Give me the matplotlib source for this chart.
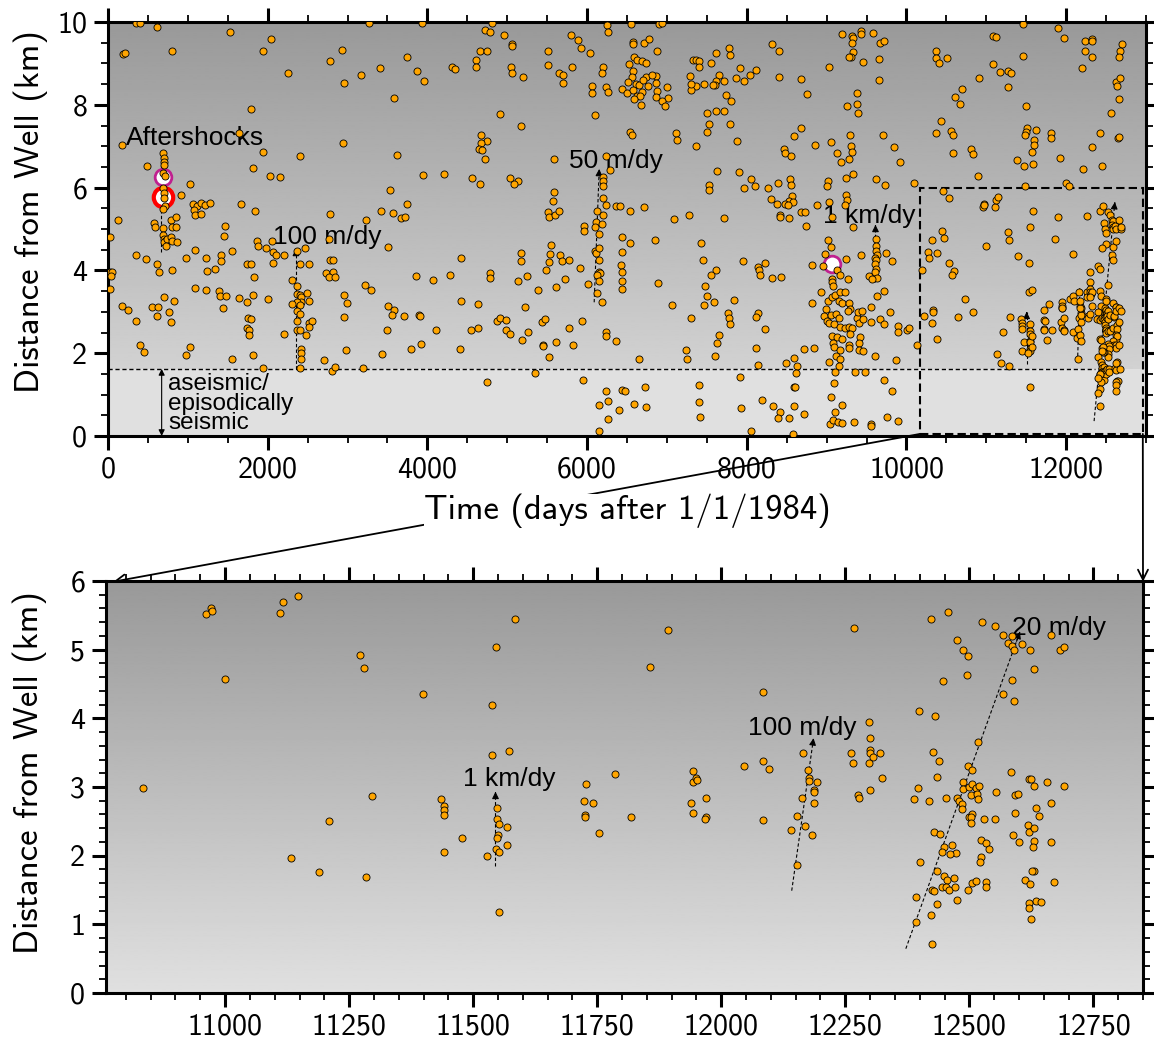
import numpy as np
import matplotlib
matplotlib.use('Agg')
import matplotlib.pyplot as plt
from matplotlib.patches import Rectangle, ConnectionPatch
from matplotlib.ticker import MultipleLocator, FormatStrFormatter

plt.rcParams['axes.unicode_minus'] = False

AX_FONT = 'cmss10'
NOTE_FONT = 'Liberation Sans'

# ---------------------------------------------------------------------------
# Event catalogue: (days after 1/1/1984, distance from well in km)
# ---------------------------------------------------------------------------

quakes_1984_1992 = [
    (355, 9.98), (397, 9.98), (614, 9.89), (1534, 9.76), (2040, 9.58), (1935, 9.29), (807, 9.31),
    (188, 9.23), (217, 9.25), (2780, 9.07), (2934, 9.33), (2249, 8.78), (2960, 8.52), (3164, 8.72),
    (1797, 7.91), (1643, 7.31), (176, 7.02), (2939, 7.08), (1935, 6.86), (2404, 6.77), (1822, 6.48),
    (2027, 6.29), (2157, 6.25), (489, 6.51), (1024, 6.09), (1664, 5.6), (1835, 5.43), (2780, 5.37),
    (130, 5.21), (21, 4.81), (1471, 5.08), (1455, 4.83),
    (693, 6.83), (701, 6.71), (701, 6.63), (701, 6.55), (693, 6.35), (709, 6.27), (693, 5.99),
    (701, 5.87), (701, 5.75), (718, 5.55), (689, 5.48), (580, 5.15), (589, 5.05), (693, 5.03),
    (785, 5.21), (797, 5.05), (851, 5.05), (851, 5.29), (693, 4.85), (701, 4.77), (718, 4.72),
    (705, 4.69), (745, 4.75), (785, 4.8), (801, 4.7), (860, 4.68), (722, 4.6), (920, 5.81),
    (1066, 5.61), (1116, 5.56), (1078, 5.47), (1166, 5.62), (1216, 5.57), (1275, 5.62), (1095, 5.34),
    (1170, 5.37), (355, 4.36), (481, 4.27), (610, 4.15), (635, 3.96), (807, 4.0), (982, 4.31),
    (1091, 4.49), (1233, 4.31), (1413, 4.36), (1413, 4.23), (1555, 4.47), (1241, 3.98), (1342, 4.03),
    (21, 3.97), (46, 3.97), (33, 3.86), (29, 3.54), (1747, 4.15), (1797, 4.15), (1831, 3.84),
    (1860, 4.72), (1881, 4.59), (1977, 4.55), (2048, 4.7), (2061, 4.44), (2098, 4.37), (2065, 4.18),
    (2207, 4.38), (2462, 4.53), (2521, 4.15), (2771, 4.77), (2780, 4.24), (2813, 4.24), (2729, 3.94),
    (2813, 3.95), (2771, 3.85), (2846, 3.85), (1091, 3.58), (1233, 3.53), (1392, 3.5), (1404, 3.39),
    (1480, 3.37), (1639, 3.33), (1747, 3.24), (1818, 3.41), (2002, 3.32), (702, 3.35), (828, 3.27),
    (176, 3.15), (247, 3.04), (556, 3.12), (631, 3.12), (614, 2.89), (765, 3.0), (786, 2.76),
    (355, 2.77), (1442, 3.09), (1751, 2.84), (1797, 2.82), (1743, 2.62), (1760, 2.56), (1772, 2.44),
    (397, 2.2), (451, 2.03), (978, 1.95), (1032, 2.15), (1547, 1.87), (1818, 1.95), (1935, 1.65),
    (2207, 2.47), (2709, 1.83), (2800, 1.57), (2842, 1.67), (2980, 2.08), (2960, 2.88), (2989, 3.21),
    (2960, 3.41),
    (2362, 4.46), (2404, 4.16), (2307, 3.77), (2362, 3.63), (2362, 3.43), (2404, 3.41), (2412, 3.35),
    (2412, 3.23), (2362, 3.23), (2404, 3.17), (2307, 3.18), (2521, 3.25), (2487, 3.45), (2362, 3.03),
    (2404, 2.94), (2362, 2.78), (2521, 2.74), (2550, 2.77), (2521, 2.64), (2362, 2.56), (2404, 2.56),
    (2475, 2.45), (2412, 2.09), (2412, 2.0), (2412, 1.87), (2404, 1.65),
]

quakes_1992_2001 = [
    (3275, 9.98), (3933, 9.98), (4717, 9.81), (4788, 9.76), (4808, 9.98), (4958, 9.68), (5058, 9.47),
    (5054, 9.43), (3746, 9.16), (3404, 8.88), (3871, 8.82), (3954, 8.57), (4304, 8.92), (4350, 8.86),
    (4613, 9.08), (4608, 8.92), (4658, 9.31), (4750, 9.31), (5046, 8.91), (5054, 8.78), (5200, 8.68),
    (5513, 9.29), (5508, 8.95), (5650, 8.77), (5700, 8.72), (5696, 8.52), (5817, 8.91), (5804, 9.68),
    (5892, 9.56), (5929, 9.38), (6033, 9.25), (6250, 9.92), (6263, 9.76), (6200, 8.91), (6188, 8.78),
    (6058, 8.45), (6067, 8.29), (6233, 8.42), (6267, 8.3), (3588, 8.16), (4913, 7.77), (5171, 7.49),
    (6104, 7.76), (4675, 7.27), (4742, 7.12), (4671, 7.07), (4650, 6.93), (4679, 6.9), (4725, 6.7),
    (3625, 6.78), (3942, 6.3), (4213, 6.33), (4558, 6.22), (4658, 6.08), (5033, 6.23), (5138, 6.17),
    (5083, 6.08), (5592, 6.69), (3533, 5.95), (3742, 5.6), (3425, 5.44), (3567, 5.39), (3671, 5.26),
    (3717, 5.28), (3233, 5.21), (3512, 4.57), (5583, 5.9), (5571, 5.68), (5513, 5.4), (5525, 5.3),
    (5596, 5.35), (5650, 5.43),
    (6233, 6.77), (6292, 6.42), (6204, 6.25), (6204, 6.15), (6204, 6.05), (6204, 5.74), (6233, 5.59),
    (6121, 5.43), (6204, 5.34), (6113, 5.16), (6188, 5.12), (6096, 5.04), (6150, 4.87), (5967, 5.08),
    (5967, 4.94), (6100, 4.46), (6117, 4.41), (6150, 4.54), (6150, 4.24), (6150, 3.97), (6158, 3.93),
    (6125, 3.9), (6150, 3.74), (6129, 3.45), (6192, 3.23), (6358, 5.56), (5917, 4.06), (6008, 3.67),
    (4417, 4.3), (3858, 3.87), (4071, 3.78), (4288, 3.88), (4783, 3.93), (4788, 3.81), (5175, 4.43),
    (5175, 4.22), (5242, 3.87), (5138, 3.75), (5546, 4.61), (5533, 4.4), (5525, 4.2), (5663, 4.36),
    (5683, 4.23), (5771, 4.26), (5483, 4.0), (5608, 3.61), (5721, 3.8), (5388, 3.53), (3217, 3.65),
    (3296, 3.53), (3508, 3.15), (3579, 3.04), (3558, 2.93), (3713, 2.9), (3900, 2.93), (3904, 2.89),
    (4113, 2.56), (4417, 3.25), (4629, 3.2), (4542, 2.57), (4633, 2.62), (3492, 2.56), (3796, 2.11),
    (3925, 2.23), (3433, 1.97), (4408, 2.1), (4875, 2.77), (4913, 2.85), (4983, 2.8), (4983, 2.55),
    (5029, 2.46), (5221, 3.12), (5188, 2.32), (5258, 2.51), (5438, 2.75), (5467, 2.82), (5446, 2.21),
    (5446, 2.17), (5529, 1.91), (5608, 2.27), (5779, 2.62), (5821, 2.19), (5938, 2.78), (6242, 2.52),
    (6238, 2.41), (6367, 2.3), (3192, 1.65), (4750, 1.3), (5350, 1.52), (5954, 1.36), (6242, 1.09),
    (6267, 0.84), (6154, 0.76), (6258, 0.41), (6150, 0.12),
]

quakes_2001_2010 = [
    (6554, 9.96), (6900, 9.94), (6942, 9.98), (6575, 9.51), (6579, 9.46), (6717, 9.49), (6775, 9.59),
    (6871, 9.31), (6583, 9.15), (6629, 9.09), (6683, 9.05), (6742, 9.02), (6525, 8.99), (6575, 8.81),
    (6567, 8.68), (6733, 8.66), (6858, 8.7), (6808, 8.72), (6867, 8.52), (6517, 8.54), (6608, 8.5),
    (6650, 8.47), (6700, 8.6), (6767, 8.45), (6442, 8.38), (6504, 8.28), (6575, 8.35), (6629, 8.22),
    (6683, 8.32), (6667, 8.22), (6588, 8.15), (6671, 7.99), (6871, 8.34), (6867, 8.2), (7004, 8.44),
    (7008, 8.17), (6933, 8.08), (6975, 7.96), (7321, 9.08), (7367, 9.09), (7400, 9.07), (7396, 8.92),
    (7554, 9.0), (7617, 9.25), (7783, 9.38), (7788, 9.21), (7292, 8.69), (7650, 8.73), (7617, 8.58),
    (7596, 8.49), (7579, 8.47), (7713, 8.57), (7463, 8.5), (7358, 8.45), (7296, 8.36), (7296, 8.5),
    (7867, 8.65), (7913, 8.88), (7967, 8.58), (8038, 8.72), (8121, 8.84), (7742, 8.23), (7808, 8.1),
    (7496, 7.79), (7617, 7.84), (7713, 7.85), (7525, 7.54), (7508, 7.35), (7788, 7.53), (7117, 7.31),
    (7121, 7.14), (7358, 7.0), (7879, 7.12), (6538, 7.35), (6567, 7.27), (8321, 9.46), (8408, 9.31),
    (8408, 8.66), (8683, 8.62), (8750, 8.26), (9025, 8.92), (9196, 9.7), (9317, 9.65), (9325, 9.62),
    (9429, 9.78), (9429, 9.7), (9575, 9.73), (9321, 9.49), (9333, 9.27), (9308, 9.16), (9275, 9.15),
    (9458, 9.04), (9658, 9.11), (9663, 9.49), (9713, 9.55), (9654, 8.61), (9379, 8.28), (9383, 8.03),
    (9392, 7.79), (9258, 7.97), (8679, 7.45), (8596, 7.24), (9054, 7.11), (8854, 7.02), (9292, 7.27),
    (9308, 7.0), (9317, 6.85), (9283, 6.68), (9129, 6.84), (9179, 6.61), (8471, 6.93), (8475, 6.84),
    (8550, 6.76), (9708, 7.26), (9238, 6.24), (9329, 6.33), (9021, 6.15), (9000, 6.05), (9621, 6.2),
    (9733, 6.07), (7625, 6.39), (7904, 6.38), (8050, 6.2), (8108, 6.05), (7963, 5.98), (8263, 5.99),
    (8396, 6.1), (8542, 6.2), (8558, 6.07), (8567, 5.8), (8533, 5.68), (8575, 5.66), (8483, 5.61),
    (8517, 5.58), (8375, 5.6), (8304, 5.72), (8417, 5.35), (8421, 5.3), (8533, 5.26), (8683, 5.41),
    (8725, 5.41), (8879, 5.57), (8738, 5.08), (9029, 5.66), (9071, 5.29), (9333, 5.04), (9242, 5.82),
    (9254, 5.69), (9233, 5.58), (7525, 6.06), (7529, 5.94), (7088, 5.24), (7275, 5.35), (7721, 5.26),
    (6717, 5.54), (6533, 5.43), (6417, 5.56), (6433, 4.81), (6533, 4.67), (6438, 4.44), (6850, 4.74),
    (7425, 4.66), (7458, 4.25), (7617, 4.01), (7558, 3.88), (7471, 3.62), (7504, 3.39), (7588, 3.23),
    (7463, 3.16), (6888, 3.7), (7063, 3.16), (7296, 2.85), (7950, 4.22), (8142, 4.08), (8158, 4.02),
    (8163, 3.9), (8225, 4.18), (8317, 3.82), (8433, 3.85), (7842, 3.28), (7763, 2.98), (7779, 2.85),
    (7796, 2.71), (8138, 2.98), (8117, 2.87), (8233, 2.58), (7650, 2.44), (7633, 2.25), (7233, 2.08),
    (7246, 1.87), (7608, 1.93), (8121, 2.12), (8142, 1.71), (8488, 1.76), (8596, 1.89), (8629, 1.69),
    (8617, 1.52), (8713, 2.11), (8846, 2.12), (6646, 1.87), (6442, 1.12), (6471, 1.09), (6729, 1.18),
    (6592, 0.77), (6733, 0.71), (7400, 1.22), (7400, 0.83), (7417, 0.47), (7917, 1.42), (7925, 0.67),
    (8054, 0.12), (8188, 0.87), (8325, 0.73), (8417, 0.58), (8392, 0.43), (8525, 0.43), (8588, 1.18),
    (8608, 1.18), (8588, 0.73), (8721, 0.53), (8583, 0.06), (6404, 0.63), (6421, 4.12), (6433, 3.96),
    (6442, 3.75), (6442, 3.54),
    (9017, 4.73), (9054, 4.57), (8983, 4.4), (8821, 4.12), (8954, 4.1), (9125, 4.0), (9067, 3.8),
    (9067, 3.71), (9075, 3.63), (9171, 3.88), (9267, 3.8), (9242, 4.28), (9429, 4.36), (8929, 3.49),
    (8817, 3.21), (9017, 3.26), (9067, 3.35), (9100, 3.41), (9171, 3.47), (9233, 3.47), (9150, 3.26),
    (9192, 3.21), (9275, 3.21), (9296, 3.06), (9267, 3.03), (8992, 3.06), (8971, 2.89), (9004, 2.77),
    (9025, 2.72), (9054, 2.92), (9117, 2.94), (9088, 2.7), (9150, 2.84), (9171, 2.64), (9233, 2.6),
    (9275, 2.64), (9317, 2.6), (9379, 2.84), (9400, 2.72), (9454, 2.82), (9388, 3.0), (9442, 3.02),
    (9067, 2.42), (9129, 2.38), (9192, 2.35), (9288, 2.46), (9421, 2.38), (9400, 2.25), (9079, 2.24),
    (9088, 2.16), (9163, 2.07), (9283, 2.21), (9275, 2.12), (9400, 2.07), (9454, 2.05), (9608, 1.93),
    (9117, 1.93), (9171, 1.87), (9025, 1.78), (9150, 1.69), (9108, 1.54), (9092, 1.28), (9050, 0.94),
    (9108, 0.58), (9192, 0.75), (9046, 0.29), (9079, 0.39), (9142, 0.35), (9192, 0.31), (9338, 0.35),
    (9554, 0.29), (9554, 0.23), (9358, 1.54), (9475, 1.55), (9554, 3.11), (9554, 2.76), (9671, 2.82),
    (9713, 2.7), (9721, 3.51), (9629, 3.39),
    (9621, 4.77), (9617, 4.6), (9617, 4.48), (9629, 4.38), (9600, 4.3), (9621, 4.24), (9608, 4.16),
    (9617, 4.04), (9600, 3.96), (9629, 3.82), (9533, 3.86), (9567, 3.8),
]

quakes_2010_2019 = [
    (11463, 9.96), (11892, 9.85), (11979, 9.61), (12233, 9.55), (12325, 9.59), (12329, 9.55),
    (12242, 9.29), (12321, 9.16), (12704, 9.46), (12671, 9.31), (12658, 9.16), (12204, 8.88),
    (12629, 8.56), (12638, 8.46), (12679, 8.64), (12658, 8.14), (12567, 7.79), (12421, 7.31),
    (12329, 6.98), (12213, 6.44), (12446, 6.51), (12650, 7.2), (12663, 7.23), (9850, 6.98),
    (9917, 6.63), (10096, 6.11), (10375, 9.31), (10375, 9.12), (10408, 9.02), (10513, 9.13),
    (10371, 7.31), (10429, 7.61), (10563, 7.37), (10588, 7.28), (10588, 6.84), (10604, 8.18),
    (10692, 8.38), (10671, 8.03), (10808, 6.94), (10838, 6.81), (10896, 6.29), (10904, 8.65),
    (11079, 9.65), (11121, 9.64), (11079, 8.99), (11175, 8.8), (11267, 8.82), (11313, 8.78),
    (11271, 8.43), (11463, 9.19), (11500, 7.98), (11504, 7.45), (11496, 7.34), (11488, 7.26),
    (11617, 7.4), (11596, 7.15), (11592, 7.02), (11567, 6.85), (11383, 6.66), (11475, 6.53),
    (11579, 6.57), (11804, 7.33), (11808, 7.2), (11921, 6.72), (11479, 6.05), (11996, 6.1),
    (12033, 6.03),
    (10463, 5.92), (10538, 5.76), (10442, 4.95), (10475, 4.79), (10325, 4.73), (10275, 4.44),
    (10283, 4.31), (10379, 4.41), (10200, 4.01), (10538, 4.17), (10600, 3.99), (10567, 3.9),
    (10733, 3.32), (10329, 3.05), (10329, 3.0), (10225, 2.9), (10325, 2.72), (10379, 2.34),
    (10642, 2.87), (9825, 4.23), (9796, 2.99), (9892, 2.66), (9892, 2.51), (10008, 2.55),
    (10038, 2.6), (10129, 2.21), (9871, 1.83), (9825, 1.09), (9892, 0.36), (9754, 0.47),
    (9721, 1.36), (9742, 4.43),
]

# events inside the enlarged window (lower panel)
quakes_window = [
    (10835, 2.99), (10962, 5.52), (10972, 5.61), (10974, 5.57), (11000, 4.58), (11110, 5.54),
    (11116, 5.7), (11146, 5.78), (11132, 1.97), (11189, 1.76), (11210, 2.51), (11271, 4.92),
    (11280, 4.73), (11284, 1.69), (11297, 2.87), (11398, 4.35), (11436, 2.83), (11441, 2.72),
    (11441, 2.66), (11442, 2.59), (11442, 2.05), (11478, 2.26),
    (11546, 5.04), (11585, 5.44), (11538, 4.19), (11538, 3.47), (11573, 3.52), (11548, 2.7),
    (11548, 2.54), (11553, 2.46), (11551, 2.3), (11548, 2.26), (11547, 2.1), (11552, 2.06),
    (11569, 2.42), (11569, 2.15), (11528, 2.0), (11552, 1.18), (11728, 3.04), (11723, 2.8),
    (11741, 2.77), (11726, 2.59), (11725, 2.56), (11754, 2.33), (11786, 3.19), (11819, 2.57),
    (11857, 4.75), (11892, 5.29), (11944, 3.23), (11943, 3.08), (11950, 3.13), (11952, 3.1),
    (11940, 2.76), (11943, 2.62), (11970, 2.84), (11970, 2.56), (11968, 2.53), (12046, 3.31),
    (12085, 4.39), (12085, 3.38), (12097, 3.26), (12085, 2.52), (12140, 2.37), (12153, 2.58),
    (12153, 1.87),
    (12168, 2.43), (12182, 2.3), (12163, 2.84), (12186, 2.76), (12186, 2.96), (12186, 2.92),
    (12192, 3.08), (12176, 3.13), (12176, 3.09), (12174, 3.25), (12164, 3.49), (12262, 3.49),
    (12266, 3.35), (12297, 3.95), (12300, 3.71), (12300, 3.54), (12300, 3.49), (12305, 3.43),
    (12319, 3.49), (12297, 3.35), (12323, 3.13), (12275, 2.89), (12278, 2.84), (12300, 2.95),
    (12267, 5.32),
    (12423, 5.44), (12457, 5.55), (12525, 5.4), (12551, 5.34), (12568, 5.21), (12585, 5.2),
    (12578, 5.09), (12585, 5.05), (12591, 5.0), (12607, 5.08), (12622, 5.0), (12665, 5.21),
    (12682, 5.0), (12691, 5.04), (12475, 5.14), (12487, 5.0), (12498, 4.91), (12495, 4.63),
    (12447, 4.54), (12585, 4.56), (12630, 4.72), (12568, 4.36), (12590, 4.25), (12398, 4.11),
    (12430, 4.03), (12518, 3.65), (12427, 3.51), (12438, 3.38), (12434, 3.14), (12397, 2.99),
    (12389, 2.83), (12419, 2.8), (12453, 2.84), (12475, 2.84), (12487, 3.08), (12487, 2.97),
    (12480, 2.8), (12485, 2.75), (12485, 2.68), (12498, 3.3), (12505, 3.25), (12500, 3.0),
    (12505, 3.05), (12503, 2.88), (12514, 2.98), (12520, 3.02), (12516, 2.9), (12518, 2.82),
    (12499, 2.57), (12505, 2.6), (12503, 2.56), (12503, 2.48), (12529, 2.53), (12551, 2.54),
    (12554, 2.92), (12583, 3.22), (12593, 2.88), (12599, 2.9), (12592, 2.62), (12621, 3.12),
    (12624, 3.12), (12630, 3.01), (12656, 3.08), (12690, 3.01), (12634, 2.69), (12640, 2.58),
    (12665, 2.76), (12619, 2.45), (12620, 2.34), (12631, 2.41), (12587, 2.3), (12601, 2.2),
    (12630, 2.21), (12629, 2.13), (12665, 2.2), (12524, 2.23), (12533, 2.18), (12540, 2.1),
    (12523, 1.98), (12521, 1.91), (12429, 2.34), (12440, 2.32), (12449, 2.13), (12465, 2.15),
    (12473, 2.04), (12462, 2.02), (12445, 2.05), (12401, 1.91), (12434, 1.78), (12449, 1.71),
    (12454, 1.64), (12470, 1.67), (12445, 1.55), (12453, 1.55), (12460, 1.5), (12471, 1.54),
    (12475, 1.36), (12497, 1.5), (12505, 1.6), (12514, 1.63), (12533, 1.61), (12534, 1.55),
    (12424, 1.5), (12428, 1.49), (12435, 1.3), (12423, 1.13), (12393, 1.4), (12393, 1.03),
    (12425, 0.72), (12612, 1.64), (12622, 1.59), (12631, 1.78), (12626, 1.77), (12670, 1.61),
    (12635, 1.34), (12644, 1.33), (12620, 1.31), (12620, 1.24), (12625, 1.08),
]

# large events: (day, km)
mainshock = (693, 5.77)
foreshocks = [(693, 6.25), (9067, 4.16)]

# migration fronts: (label, start, end, label anchor)
fronts_top = [
    ('100 m/dy', (2354, 1.62), (2354, 4.52), (2070, 4.63)),
    ('50 m/dy', (6089, 3.23), (6152, 6.45), (5775, 6.47)),
    ('1 km/dy', (9612, 3.71), (9612, 5.1), (8956, 5.14)),
    (None, (11505, 1.73), (11505, 3.0), None),
    (None, (12143, 1.8), (12170, 3.57), None),
    (None, (12350, 0.36), (12610, 5.65), None),
]
fronts_bottom = [
    ('1 km/dy', (11545, 1.85), (11545, 2.93), (11479, 3.02)),
    ('100 m/dy', (12142, 1.49), (12186, 3.71), (12054, 3.76)),
    ('20 m/dy', (12372, 0.645), (12602, 5.26), (12585, 5.22)),
]

aseismic_depth = 1.62
window = (10170, 12960, 0.05, 5.98)


def shade(ax, x0, x1, y0, y1, top, bottom):
    g = np.linspace(bottom, top, 256).reshape(-1, 1)
    ax.imshow(g, extent=[x0, x1, y0, y1], origin='lower', aspect='auto',
              cmap='gray', vmin=0, vmax=1, zorder=0, interpolation='bilinear')


def front(ax, start, end):
    (x0, y0), (x1, y1) = start, end
    ax.plot([x0, x1], [y0, y1], color='k', lw=0.8, ls=(0, (3, 2)), zorder=2)
    ax.annotate('', xy=(x1, y1), xytext=(x1 - 0.03 * (x1 - x0), y1 - 0.03 * (y1 - y0)),
                arrowprops=dict(arrowstyle='-|>', color='k', lw=0.8, mutation_scale=10,
                                shrinkA=0, shrinkB=0), zorder=2)


def style_axes(ax, xmaj, xmin, ymaj, ymin):
    ax.xaxis.set_major_locator(MultipleLocator(xmaj))
    ax.xaxis.set_minor_locator(MultipleLocator(xmin))
    ax.yaxis.set_major_locator(MultipleLocator(ymaj))
    ax.yaxis.set_minor_locator(MultipleLocator(ymin))
    ax.xaxis.set_major_formatter(FormatStrFormatter('%d'))
    ax.yaxis.set_major_formatter(FormatStrFormatter('%d'))
    ax.tick_params(which='both', direction='out', top=True, right=True,
                   labeltop=False, labelright=False)
    ax.tick_params(which='major', length=10, width=2.2, pad=5, labelsize=21.5)
    ax.tick_params(which='minor', length=5, width=1.3)
    for lab in ax.get_xticklabels() + ax.get_yticklabels():
        lab.set_fontfamily(AX_FONT)
    for sp in ax.spines.values():
        sp.set_linewidth(2.2)


def scatter(ax, pts):
    t, r = np.array(pts).T
    ax.scatter(t, r, s=26, c='#ffa500', edgecolors='k', linewidths=0.6, zorder=3)


fig = plt.figure(figsize=(11.54, 10.46), dpi=100)
ax1 = fig.add_axes([108 / 1154, 1 - 436 / 1046, 1038 / 1154, 414 / 1046])
ax2 = fig.add_axes([106 / 1154, 1 - 993 / 1046, 1037 / 1154, 412 / 1046])

# ---------------- whole record ----------------
ax1.set_xlim(0, 13000)
ax1.set_ylim(0, 10)
shade(ax1, 0, 13000, 0, 10, 0.60, 0.865)
ax1.axhspan(0, aseismic_depth, color='#e0e0e0', zorder=0.5, lw=0)
ax1.plot([0, 12360], [aseismic_depth] * 2, color='k', lw=1.0, ls=(0, (3, 2)), zorder=2)

for pts in (quakes_1984_1992, quakes_1992_2001, quakes_2001_2010, quakes_2010_2019, quakes_window):
    scatter(ax1, pts)

ax1.plot(*mainshock, 'o', ms=14, mfc='white', mec='red', mew=3.0, zorder=2.6)
for fx, fy in foreshocks:
    ax1.plot(fx, fy, 'o', ms=12, mfc='white', mec='#c0208f', mew=2.0, zorder=2.6)
ax1.plot([668, 668], [4.44, 6.88], color='k', lw=0.8, ls=(0, (3, 2)), zorder=2.5)

for label, start, end, pos in fronts_top:
    front(ax1, start, end)
    if label:
        ax1.text(pos[0], pos[1], label, family=NOTE_FONT, fontsize=19, zorder=2.7)

ax1.text(225, 7.03, 'Aftershocks', family=NOTE_FONT, fontsize=19, zorder=2.7)
ax1.annotate('', xy=(672, 0.0), xytext=(672, aseismic_depth),
             arrowprops=dict(arrowstyle='<|-|>', color='k', lw=0.8, mutation_scale=9,
                             shrinkA=0, shrinkB=0), zorder=2)
ax1.text(755, 1.52, 'aseismic/\nepisodically\nseismic', family=NOTE_FONT, fontsize=17.5,
         va='top', linespacing=0.85, zorder=2.7)

wx0, wx1, wy0, wy1 = window
ax1.add_patch(Rectangle((wx0, wy0), wx1 - wx0, wy1 - wy0, fill=False, ls=(0, (4, 2)),
                        lw=1.5, ec='k', zorder=2.8, clip_on=False))

style_axes(ax1, 2000, 500, 2, 0.5)
ax1.set_xlabel('Time (days after 1/1/1984)', family=AX_FONT, fontsize=25,
               bbox=dict(facecolor='white', edgecolor='none', pad=0))
ax1.xaxis.set_label_coords(0.5, -0.14)
ax1.set_ylabel('Distance from Well (km)', family=AX_FONT, fontsize=25)
ax1.yaxis.set_label_coords(-0.058, 0.541)

# ---------------- enlarged window ----------------
ax2.set_xlim(10760, 12850)
ax2.set_ylim(0, 6)
shade(ax2, 10760, 12850, 0, 6, 0.60, 0.878)
scatter(ax2, quakes_window)
for label, start, end, pos in fronts_bottom:
    front(ax2, start, end)
    ax2.text(pos[0], pos[1], label, family=NOTE_FONT, fontsize=19, zorder=2.7)

style_axes(ax2, 250, 50, 1, 0.2)
ax2.set_ylabel('Distance from Well (km)', family=AX_FONT, fontsize=25)
ax2.yaxis.set_label_coords(-0.057, 0.536)

# connectors from the window outline to the lower panel
for xa, xb in ((wx0, 10775), (wx1, 12850)):
    con = ConnectionPatch(xyA=(xa, wy0), coordsA=ax1.transData,
                          xyB=(xb, 5.99), coordsB=ax2.transData,
                          arrowstyle='->', lw=1.3, color='k', mutation_scale=18,
                          shrinkA=0, shrinkB=0)
    con.set_clip_on(False)
    con.set_zorder(1)
    ax1.add_artist(con)

fig.savefig('out.png', dpi=100)
